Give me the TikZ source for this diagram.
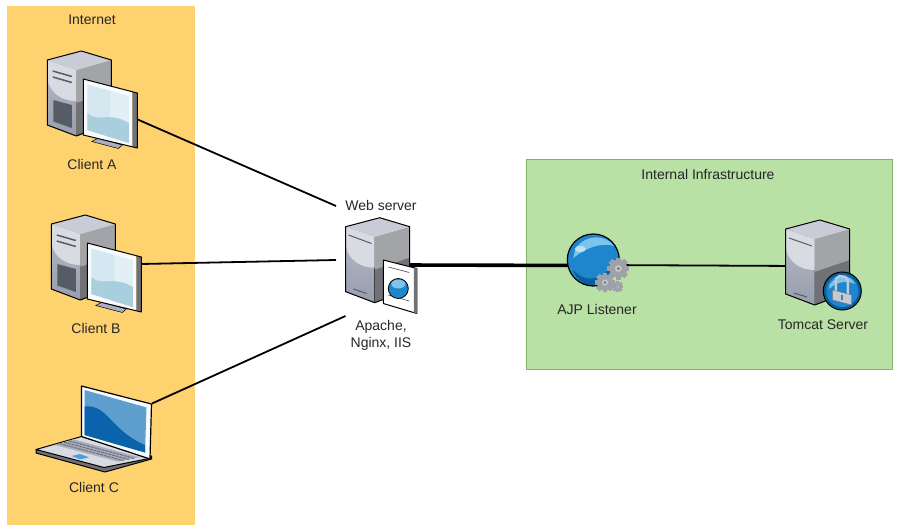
\documentclass[tikz,border=0pt]{standalone}
\usepackage{fontspec}
\setmainfont{Liberation Sans}
\usepackage{xcolor}
\usetikzlibrary{positioning}

\definecolor{zoneorange}{HTML}{FFD270}
\definecolor{zonegreen}{HTML}{B9E0A5}
\definecolor{zoneedge}{HTML}{82B366}
\definecolor{towertop}{HTML}{C9CCD6}
\definecolor{towerlight}{HTML}{D9DBE3}
\definecolor{towermid}{HTML}{A9AFC0}
\definecolor{towerside}{HTML}{A3A4A8}
\definecolor{towerdark}{HTML}{707278}
\definecolor{slate}{HTML}{565C66}
\definecolor{screenhigh}{HTML}{D3E8F0}
\definecolor{screenlow}{HTML}{A9CFDE}
\definecolor{globeblue}{HTML}{1E86CC}
\definecolor{globedark}{HTML}{0B5E9E}
\definecolor{globelight}{HTML}{7CC4EC}
\definecolor{lidblue}{HTML}{5E9FD0}
\definecolor{liddark}{HTML}{0B63AC}
\definecolor{geargrey}{HTML}{9EA0AA}
\definecolor{lockbody}{HTML}{C3CBD8}

\tikzset{
  zone/.style={draw=none, fill=#1},
  caption/.style={font=\fontsize{14}{17}\selectfont, text=black!85, align=center, inner sep=0pt},
  wire/.style={draw=black, line width=1.8pt},
  trunk/.style={draw=black, line width=3.6pt},
  edge/.style={draw=black, line width=1pt, line join=round},
  tower/.pic={
    \fill[towerside] (29,19) -- (64,9) -- (64,72) -- (29,85) -- cycle;
    \fill[towerdark] (29,52) -- (64,40) -- (64,72) -- (29,85) -- cycle;
    \fill[top color=towermid!85!white, bottom color=towermid!90!black] (0,9) -- (29,19) -- (29,85) -- (0,74) -- cycle;
    \fill[towerlight] (0,9) -- (29,19) -- (29,50) .. controls (14,50) and (3,42) .. (0,28) -- cycle;
    \fill[towertop] (0,9) -- (34,0) -- (64,9) -- (29,19) -- cycle;
    \draw[edge] (0,9) -- (34,0) -- (64,9) -- (64,72) -- (29,85) -- (0,74) -- cycle;
  },
  desktop/.pic={
    \pic at (0,0) {tower};
    \draw[slate, line width=1.5pt] (5.5,20) -- (24.5,25.5) (5.5,26) -- (24.5,31.5);
    \fill[slate] (6,49) -- (24.5,54) -- (24.5,77) -- (6,70.5) -- cycle;
    \filldraw[fill=towermid, draw=black, line width=0.5pt] (44.5,90.5) -- (51,87) -- (75,94) -- (71,97.5) -- cycle;
    \fill[white!85!towerlight] (36,28) -- (85,41) -- (85,95.5) -- (36,84) -- cycle;
    \fill[towerdark] (85,41) -- (90,42) -- (90,97) -- (85,95.5) -- cycle;
    \fill[screenhigh] (40,33.5) -- (81.5,45) -- (81.5,92) -- (40,79) -- cycle;
    \fill[white, opacity=0.35] (63,39.5) -- (81.5,45) -- (81.5,92) -- (63,86) -- cycle;
    \fill[screenlow] (40,62) .. controls (50,72) and (62,60) .. (81.5,72) -- (81.5,92) -- (40,79) -- cycle;
    \draw[edge] (36,28) -- (90,42) -- (90,97) -- (36,84) -- cycle;
  },
  laptop/.pic={
    % base first, then the lid standing on it
    \filldraw[fill=towerdark, draw=black, line width=1pt, line join=round] (0,64) -- (0,67) -- (69,86) -- (115.5,73) -- (115.5,70) -- cycle;
    \filldraw[fill=towerlight, draw=black, line width=1pt, line join=round] (0,63.5) -- (45.5,50.5) -- (115.5,72) -- (68,81.5) -- cycle;
    \fill[towermid] (19,59) -- (37.3,53.3) -- (104,71.3) -- (82,75.7) -- cycle;
    \foreach \row in {1,2,3}
      \draw[towerdark, line width=1.1pt, dash pattern=on 3pt off 0.8pt]
        ({19+\row*4.6},{59-\row*1.4}) -- ({82+\row*5.5},{75.7-\row*1.1});
    \fill[globeblue!80!white] (35.7,70) -- (43.7,68) -- (53,71.3) -- (44,73.3) -- cycle;
    \filldraw[fill=white!85!towerlight, draw=black, line width=1.2pt, line join=round] (45.5,0) -- (115.5,18) -- (114,73) -- (45.5,50.5) -- cycle;
    \fill[lidblue] (48.5,4) -- (110.5,21.5) -- (109,66.5) -- (48.5,49) -- cycle;
    \fill[liddark] (48.5,20.5) .. controls (72,18) and (74,44) .. (109,59) -- (109,66.5) -- (48.5,49) -- cycle;
  },
  paperdoc/.pic={
    \filldraw[fill=white, draw=black, line width=1pt, line join=round] (0,0) -- (33.5,8.5) -- (33.5,53.5) -- (0,43.5) -- cycle;
    \fill[towerdark] (30.5,7.8) -- (33.5,8.5) -- (33.5,53.5) -- (30.5,52.6) -- cycle;
    \draw[towerdark!80!black, line width=0.7pt] (5,7) -- (26,12.5) (5,35) -- (26,41);
    \fill[globeblue] (15,28.5) circle (10);
    \fill[globelight] (15,24) ellipse (7 and 4.5);
    \draw[black, line width=0.8pt] (15,28.5) circle (10);
  },
  globe/.pic={
    \fill[globeblue] (0,0) circle (26);
    \fill[globedark] (-20,10) .. controls (-6,26) and (14,18) .. (23,-2) .. controls (25,10) and (10,26) .. (0,26) .. controls (-10,26) and (-18,18) .. (-20,10) -- cycle;
    \fill[globelight] (-18,-11) .. controls (-8,-26) and (12,-26) .. (21,-14) .. controls (8,-18) and (-8,-12) .. (-20,-2) -- cycle;
    \fill[white!50!globelight] (-13,-11) ellipse (5.5 and 3.2);
    \draw[black, line width=1.2pt] (0,0) circle (26);
  },
  gear/.pic={
    \foreach \a in {0,45,...,315}
      \fill[geargrey, rotate=\a] (-2.6,-11) rectangle (2.6,11);
    \fill[geargrey] (0,0) circle (9);
    \fill[white!40!geargrey] (0,0) circle (3.4);
    \fill[black!55] (0,0) circle (1.5);
  },
  lockbadge/.pic={
    \fill[globedark] (0,0) circle (19);
    \fill[globeblue] (0,0) circle (16);
    \fill[globelight] (-13,-6) .. controls (-6,-17) and (8,-17) .. (13,-7) .. controls (4,-11) and (-6,-9) .. (-13,-2) -- cycle;
    \draw[black, line width=1pt] (0,0) circle (19);
    \draw[lockbody, line width=2.4pt] (-6.5,0) -- (-6.5,-12) -- (-3,-15) -- (3,-14) -- (5.5,-11) -- (5.5,3);
    \filldraw[fill=lockbody, draw=towermid!70!black, line width=0.5pt] (-9.6,-1) -- (9.4,4) -- (9.4,14) -- (-9.6,9) -- cycle;
    \fill[towerdark] (-1,4) rectangle (0.6,9);
  },
}

\begin{document}
\begin{tikzpicture}[x=1pt, y=-1pt]
\useasboundingbox (0,0) rectangle (898,531);

% zones
\fill[zone=zoneorange] (7,6) rectangle (195,525);
\filldraw[zone=zonegreen, draw=zoneedge, line width=0.8pt] (526,159.5) rectangle (892,369.5);

% connector ends
\coordinate (clienta) at (136.5,119);
\coordinate (clientb) at (141,264);
\coordinate (clientc) at (152,403.5);
\coordinate (webina) at (336,206);
\coordinate (webinb) at (336,260);
\coordinate (webinc) at (345.5,316);
\coordinate (webout) at (405,265);
\coordinate (ajpin) at (590,265.5);
\coordinate (ajpout) at (600,265);
\coordinate (tomcatin) at (800,266);

\draw[wire] (clienta) -- (webina);
\draw[wire] (clientb) -- (webinb);
\draw[wire] (clientc) -- (webinc);
\draw[trunk] (webout) -- (ajpin);
\draw[wire] (ajpout) -- (tomcatin);

% icons
\pic (deska) at (47.3,51) {desktop};
\pic (deskb) at (51.3,215) {desktop};
\pic (lapc) at (36,386) {laptop};
\pic (websrv) at (345.7,217.7) {tower};
\draw[slate, line width=1pt] (348.5,235) -- (371.5,243.5) (353.5,289) -- (366.5,293.5);
\pic (webdoc) at (383.3,260) {paperdoc};
\pic (ajpglobe) at (593.3,260) {globe};
\pic[scale=1] (geara) at (618.3,268.5) {gear};
\pic[scale=0.9] (gearb) at (605,282.5) {gear};
\pic[scale=0.5] (gearc) at (617.7,286.7) {gear};
\pic (tomsrv) at (785.7,220) {tower};
\draw[slate, line width=1pt] (789,238) -- (812,246) (794,293) -- (807,297);
\pic (tomlock) at (842.3,291) {lockbadge};

% labels
\node[caption] (internet) at (92,20) {Internet};
\node[caption] (labela) at (92,164) {Client A};
\node[caption] (labelb) at (96,328) {Client B};
\node[caption] (labelc) at (94,487) {Client C};
\node[caption] (labelweb) at (381,205) {Web server};
\node[caption] (labelsoft) at (381,335.5) {Apache,\\Nginx, IIS};
\node[caption] (labelajp) at (597,309) {AJP Listener};
\node[caption] (labeltom) at (823,325) {Tomcat Server};
\node[caption] (labelinfra) at (708,174) {Internal Infrastructure};
\end{tikzpicture}
\end{document}
